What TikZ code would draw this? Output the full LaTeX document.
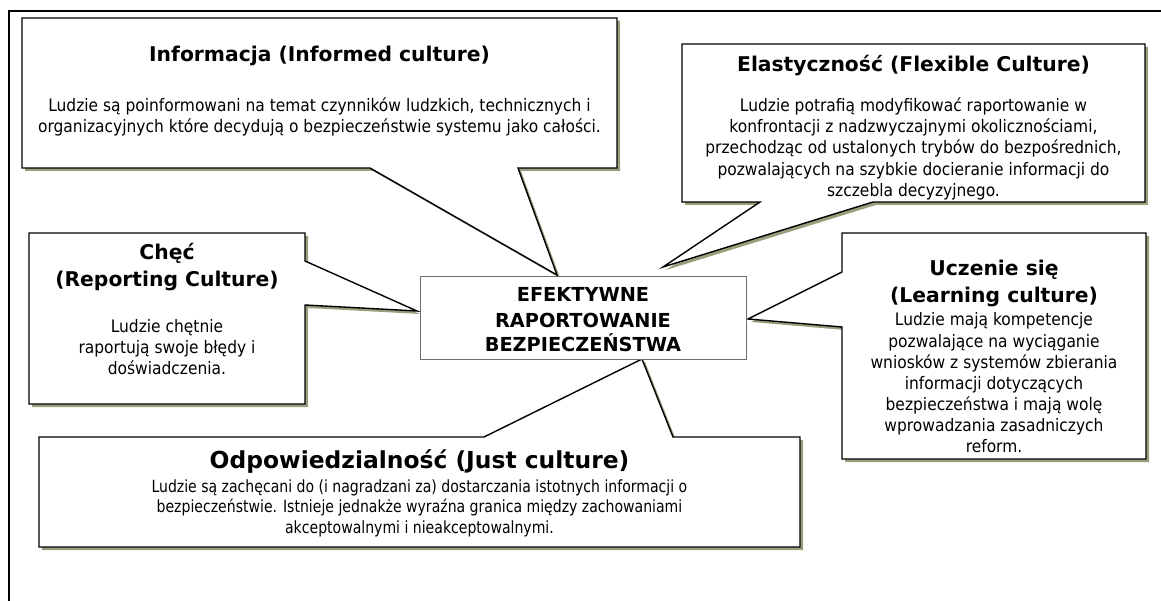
\documentclass[tikz,border=0pt]{standalone}
\usepackage{fontspec}
\setmainfont{DejaVu Sans}
\newfontfamily\bodyfont{DejaVu Sans Condensed}
\newfontfamily\odpfont{DejaVu Sans Condensed}[FakeStretch=0.93]
\definecolor{shad}{RGB}{150,160,125}
\definecolor{cbord}{RGB}{110,110,110}
\begin{document}
\begin{tikzpicture}[x=1pt,y=-1pt,
  callout/.style={draw=black, line width=1.4pt, fill=white, line join=miter},
  shadowfill/.style={fill=shad, draw=none},
  ttl/.style={font=\fontsize{20.3}{24}\selectfont\bfseries, anchor=base, inner sep=0pt},
  bigttl/.style={font=\fontsize{23.4}{28}\selectfont\bfseries, anchor=base, inner sep=0pt},
  ctr/.style={font=\fontsize{19.3}{24}\selectfont\bfseries, anchor=base, inner sep=0pt},
  bdy/.style={font=\bodyfont\fontsize{17.2}{21}\selectfont, anchor=base, inner sep=0pt},
  sbdy/.style={font=\odpfont\fontsize{16.8}{20}\selectfont, anchor=base, inner sep=0pt}]
\useasboundingbox (0,0) rectangle (1161,601);
\fill[white] (0,0) rectangle (1161,601);
% outer frame
\draw[line width=1.4pt] (9,601) -- (9,11) -- (1161,11);
% callout outlines
\def\infpath{(22,18) -- (617,18) -- (617,168) -- (518,168) -- (557,275) -- (370,168) -- (22,168) -- cycle}
\def\chcpath{(29,233) -- (305,233) -- (305,261) -- (417,311) -- (305,305) -- (305,404) -- (29,404) -- cycle}
\def\elapath{(682,44) -- (1145,44) -- (1145,202) -- (873,202) -- (663,267) -- (760,202) -- (682,202) -- cycle}
\def\lrnpath{(842,233) -- (1146,233) -- (1146,459) -- (842,459) -- (842,327) -- (748,319) -- (842,272) -- cycle}
\def\odppath{(39,437) -- (484,437) -- (642,359) -- (673,437) -- (800,437) -- (800,547) -- (39,547) -- cycle}
\begin{scope}[transform canvas={shift={(3,3)}}]
  \fill[shadowfill] \infpath;
  \fill[shadowfill] \chcpath;
  \fill[shadowfill] \elapath;
  \fill[shadowfill] \lrnpath;
  \fill[shadowfill] \odppath;
\end{scope}
\draw[callout] \infpath;
\draw[callout] \chcpath;
\draw[callout] \elapath;
\draw[callout] \lrnpath;
\draw[callout] \odppath;
% central box
\node[draw=cbord, line width=0.9pt, fill=white, minimum width=326pt, minimum height=83pt, inner sep=0pt] (center) at (583,317.5) {};
\node[ctr] (c1) at (583,302) {EFEKTYWNE};
\node[ctr] (c2) at (583,327) {RAPORTOWANIE};
\node[ctr] (c3) at (583,352) {BEZPIECZEŃSTWA};
% Informacja
\node[ttl] (inft) at (319.5,62) {Informacja (Informed culture)};
\node[bdy] (inf1) at (319.5,112) {Ludzie są poinformowani na temat czynników ludzkich, technicznych i};
\node[bdy] (inf2) at (319.5,133) {organizacyjnych które decydują o bezpieczeństwie systemu jako całości.};
% Chec
\node[ttl] (chct1) at (167,260) {Chęć};
\node[ttl] (chct2) at (167,287) {(Reporting Culture)};
\node[bdy] (chc1) at (167,332) {Ludzie chętnie};
\node[bdy] (chc2) at (167,353) {raportują swoje błędy i};
\node[bdy] (chc3) at (167,374) {doświadczenia.};
% Elastycznosc
\node[ttl] (elat) at (913.5,72) {Elastyczność (Flexible Culture)};
\node[bdy] (ela1) at (913.5,112) {Ludzie potrafią modyfikować raportowanie w};
\node[bdy] (ela2) at (913.5,133) {konfrontacji z nadzwyczajnymi okolicznościami,};
\node[bdy] (ela3) at (913.5,154) {przechodząc od ustalonych trybów do bezpośrednich,};
\node[bdy] (ela4) at (913.5,175.5) {pozwalających na szybkie docieranie informacji do};
\node[bdy] (ela5) at (913.5,196.5) {szczebla decyzyjnego.};
% Learning
\node[ttl] (lrnt1) at (994,275.5) {Uczenie się};
\node[ttl] (lrnt2) at (994,303) {(Learning culture)};
\node[bdy] (lrn1) at (994,326) {Ludzie mają kompetencje};
\node[bdy] (lrn2) at (994,347) {pozwalające na wyciąganie};
\node[bdy] (lrn3) at (994,368) {wniosków z systemów zbierania};
\node[bdy] (lrn4) at (994,389.5) {informacji dotyczących};
\node[bdy] (lrn5) at (994,410.5) {bezpieczeństwa i mają wolę};
\node[bdy] (lrn6) at (994,431.5) {wprowadzania zasadniczych};
\node[bdy] (lrn7) at (994,452.5) {reform.};
% Odpowiedzialnosc
\node[bigttl] (odpt) at (419.5,468) {Odpowiedzialność (Just culture)};
\node[sbdy] (odp1) at (419.5,492) {Ludzie są zachęcani do (i nagradzani za) dostarczania istotnych informacji o};
\node[sbdy] (odp2) at (419.5,512.5) {bezpieczeństwie. Istnieje jednakże wyraźna granica między zachowaniami};
\node[sbdy] (odp3) at (419.5,533) {akceptowalnymi i nieakceptowalnymi.};
\end{tikzpicture}
\end{document}
